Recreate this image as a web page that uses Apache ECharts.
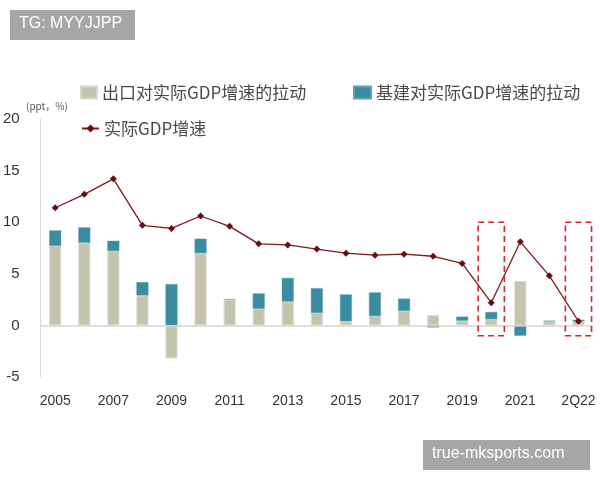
<!DOCTYPE html>
<html>
<head>
<meta charset="utf-8">
<script src="https://cdn.jsdelivr.net/npm/echarts@6/dist/echarts.min.js"></script>
<style>html,body{margin:0;padding:0;background:#fff;}#c{width:600px;height:480px;}</style>
</head>
<body>
<div id="c"></div>
<script>
const categories = ['2005','2006','2007','2008','2009','2010','2011','2012','2013','2014','2015','2016','2017','2018','2019','2020','2021','1Q22','2Q22'];
const exportPull = [7.7, 8.0, 7.2, 2.9, -3.2, 7.0, 2.5, 1.6, 2.3, 1.2, 0.4, 0.9, 1.4, 1.0, 0.45, 0.6, 4.3, 0.4, 0.4];
const infraPull  = [1.5, 1.5, 1.0, 1.3, 4.0, 1.4, 0.05, 1.5, 2.3, 2.4, 2.6, 2.3, 1.2, -0.2, 0.4, 0.7, -1.0, 0.05, 0.15];
const gdpGrowth  = [11.4, 12.7, 14.2, 9.7, 9.4, 10.6, 9.6, 7.9, 7.8, 7.4, 7.0, 6.8, 6.9, 6.7, 6.0, 2.2, 8.1, 4.8, 0.4];
const yTicks = [-5, 0, 5, 10, 15, 20];
const highlightCats = ['2020', '2Q22'];
const highlightRange = [10, -1];

const names = ['出口对实际GDP增速的拉动', '基建对实际GDP增速的拉动', '实际GDP增速'];
const font = '"Noto Sans CJK SC", "Noto Sans", sans-serif';

const chart = echarts.init(document.getElementById('c'));
const legendText = {fontSize: 17, color: '#4a4a4a', fontFamily: font};
chart.setOption({
  animation: false,
  grid: {left: 38, right: 7, top: 119, bottom: 103},
  legend: [
    {data: [names[0]], left: 80, top: 84, padding: 0, itemWidth: 16, itemHeight: 12, icon: 'rect', textStyle: legendText},
    {data: [names[1]], left: 353, top: 84, padding: 0, itemWidth: 17, itemHeight: 12, icon: 'rect', textStyle: legendText},
    {data: [names[2]], left: 81, top: 120, padding: 0, itemWidth: 17, itemHeight: 10, textStyle: legendText}
  ],
  xAxis: {
    type: 'category', data: categories, boundaryGap: true,
    axisLine: {show: false, onZero: false}, axisTick: {show: false},
    axisLabel: {interval: 1, color: '#333', fontSize: 14, margin: 17, fontFamily: 'Liberation Sans, sans-serif'}
  },
  yAxis: {
    type: 'value', min: yTicks[0], max: yTicks[yTicks.length - 1], interval: 5,
    axisLine: {show: true, lineStyle: {color: '#d9d9d9', width: 1}},
    axisTick: {show: false}, splitLine: {show: false},
    axisLabel: {color: '#333', fontSize: 15, margin: 21, fontFamily: 'Liberation Sans, sans-serif'}
  },
  series: [
    {name: names[0], type: 'bar', stack: 's', data: exportPull, barWidth: 12,
     itemStyle: {color: '#c3c3ae', borderColor: '#d8d8cc', borderWidth: 1},
     markLine: {silent: true, symbol: 'none', label: {show: false},
       lineStyle: {color: '#d4d4d4', type: 'solid', width: 1.5}, data: [{yAxis: 0}]}},
    {name: names[1], type: 'bar', stack: 's', data: infraPull, barWidth: 12,
     itemStyle: {color: '#3a8ca0', borderColor: '#5aa3b4', borderWidth: 0.5}},
    {name: names[2], type: 'line', data: gdpGrowth, symbol: 'diamond', symbolSize: 7,
     itemStyle: {color: '#6b0d12'}, lineStyle: {color: '#7a1a1e', width: 1.3}, z: 5}
  ]
});

function addGraphics() {
  const p0 = chart.convertToPixel({xAxisIndex: 0}, categories[0]);
  const p1 = chart.convertToPixel({xAxisIndex: 0}, categories[1]);
  const band = p1 - p0;
  const yTop = chart.convertToPixel({yAxisIndex: 0}, highlightRange[0]);
  const yBot = chart.convertToPixel({yAxisIndex: 0}, highlightRange[1]);
  const boxes = highlightCats.map(c => {
    const cx = chart.convertToPixel({xAxisIndex: 0}, c);
    const w = band * 0.9;
    return {type: 'rect', shape: {x: cx - w / 2, y: yTop, width: w, height: yBot - yTop},
      style: {fill: 'none', stroke: '#d7262b', lineWidth: 1.6, lineDash: [6, 4]}, z: 10};
  });
  chart.setOption({graphic: [
    ...boxes,
    {type: 'text', left: 26, top: 101, style: {text: '(ppt，%)', fill: '#595959', fontSize: 10, fontFamily: font}},
    {type: 'rect', shape: {x: 10, y: 10, width: 125, height: 30}, style: {fill: '#a6a6a6'}, z: 20},
    {type: 'text', x: 19, y: 16, style: {text: 'TG: MYYJJPP', fill: '#fff', fontSize: 16, fontFamily: 'Liberation Sans, sans-serif'}, z: 21},
    {type: 'rect', shape: {x: 423, y: 440, width: 167, height: 30}, style: {fill: '#a6a6a6'}, z: 20},
    {type: 'text', x: 432, y: 446, style: {text: 'true-mksports.com', fill: '#fff', fontSize: 16, fontFamily: 'Liberation Sans, sans-serif'}, z: 21}
  ]});
}
addGraphics();
</script>
</body>
</html>
